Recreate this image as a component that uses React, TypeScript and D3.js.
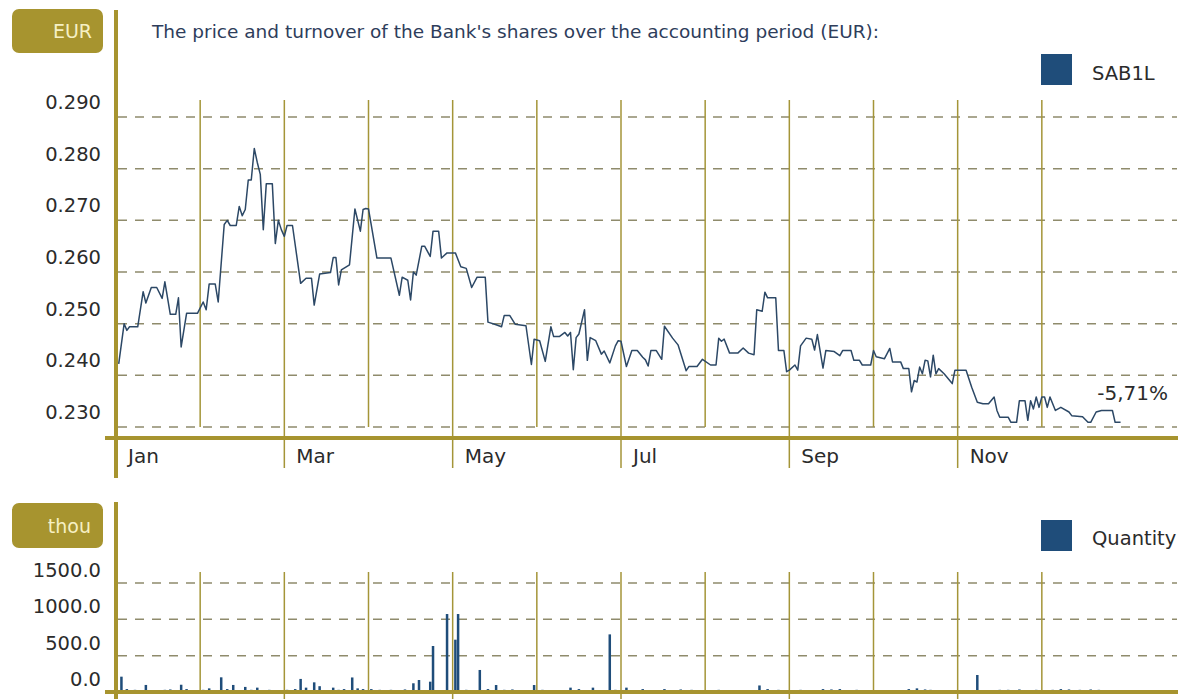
import * as d3 from 'd3'

// price points per month: [day, EUR]
const priceJan: [number, number][] = [[2, 0.2422], [4, 0.25], [5, 0.2487], [6, 0.2494], [9, 0.2494], [11, 0.2562], [12, 0.254], [14, 0.257], [16, 0.257], [18, 0.2549], [19, 0.2581], [21, 0.2518], [23, 0.2518], [24, 0.255], [25, 0.2455], [27, 0.252], [31, 0.252]]
const priceFeb: [number, number][] = [[2, 0.2542], [3, 0.2527], [4, 0.2577], [6, 0.2577], [7, 0.2542], [9, 0.2692], [10, 0.27], [11, 0.269], [13, 0.269], [14, 0.2727], [15, 0.2709], [16, 0.2721], [17, 0.2778], [18, 0.2778], [19, 0.2839], [20, 0.2812], [21, 0.2789], [22, 0.2682], [23, 0.2771], [25, 0.2771], [26, 0.2655], [27, 0.27], [28, 0.2682]]
const priceMar: [number, number][] = [[1, 0.2669], [2, 0.269], [4, 0.269], [7, 0.2578], [9, 0.2588], [11, 0.2588], [12, 0.2536], [14, 0.2596], [18, 0.2599], [19, 0.2628], [20, 0.2628], [21, 0.2575], [22, 0.2604], [25, 0.2614], [27, 0.2722], [29, 0.2679], [30, 0.2721], [31, 0.2723]]
const priceApr: [number, number][] = [[1, 0.2722], [4, 0.2627], [9, 0.2627], [12, 0.2555], [13, 0.259], [15, 0.2584], [16, 0.2546], [17, 0.26], [18, 0.2594], [20, 0.265], [21, 0.265], [23, 0.263], [24, 0.2679], [26, 0.2679], [27, 0.2627], [29, 0.2637], [30, 0.2637]]
const priceMay: [number, number][] = [[2, 0.2637], [4, 0.261], [6, 0.2607], [8, 0.257], [10, 0.259], [13, 0.259], [14, 0.2503], [17, 0.2498], [19, 0.2494], [20, 0.2516], [22, 0.2516], [24, 0.2499], [28, 0.2496], [30, 0.2421], [31, 0.247]]
const priceJun: [number, number][] = [[2, 0.2467], [4, 0.2427], [6, 0.2494], [7, 0.2475], [9, 0.2475], [11, 0.2483], [12, 0.2476], [13, 0.2483], [14, 0.2411], [15, 0.2473], [16, 0.248], [18, 0.2527], [19, 0.2429], [20, 0.2473], [22, 0.2467], [24, 0.2441], [25, 0.2447], [27, 0.2424], [29, 0.2457], [30, 0.2467]]
const priceJul: [number, number][] = [[1, 0.2466], [3, 0.2417], [5, 0.2448], [7, 0.2448], [9, 0.2435], [10, 0.243], [11, 0.2418], [12, 0.2448], [14, 0.2448], [16, 0.2431], [17, 0.2495], [20, 0.2472], [22, 0.2459], [25, 0.2409], [26, 0.2417], [29, 0.2417], [31, 0.2431]]
const priceAug: [number, number][] = [[3, 0.242], [5, 0.242], [6, 0.2472], [7, 0.2466], [8, 0.247], [10, 0.2443], [13, 0.2443], [15, 0.2453], [17, 0.2443], [19, 0.244], [20, 0.2527], [22, 0.2524], [23, 0.2561], [24, 0.255], [27, 0.255], [28, 0.2448], [30, 0.2448], [31, 0.2407]]
const priceSep: [number, number][] = [[1, 0.241], [3, 0.242], [4, 0.241], [5, 0.2457], [7, 0.2472], [9, 0.247], [10, 0.2449], [11, 0.2479], [13, 0.2414], [14, 0.2448], [17, 0.2446], [19, 0.2438], [20, 0.2448], [23, 0.2448], [24, 0.2429], [26, 0.2429], [27, 0.242], [30, 0.242]]
const priceOct: [number, number][] = [[1, 0.2448], [2, 0.2436], [5, 0.2432], [6, 0.2442], [7, 0.2452], [8, 0.2426], [11, 0.2426], [12, 0.2413], [14, 0.2413], [15, 0.2368], [16, 0.239], [17, 0.2387], [18, 0.2416], [19, 0.2403], [20, 0.2429], [21, 0.2428], [22, 0.2397], [23, 0.2439], [24, 0.2403], [25, 0.2413], [27, 0.2403], [30, 0.2384], [31, 0.241]]
const priceNov: [number, number][] = [[2, 0.241], [4, 0.241], [6, 0.2377], [8, 0.2348], [10, 0.2345], [12, 0.2345], [14, 0.2358], [15, 0.2332], [16, 0.2319], [19, 0.2319], [20, 0.2309], [22, 0.2309], [23, 0.2351], [25, 0.2351], [26, 0.2313], [27, 0.2351], [28, 0.2335], [29, 0.2358], [30, 0.2338]]
const priceDec: [number, number][] = [[1, 0.2358], [2, 0.2358], [3, 0.2338], [4, 0.2358], [6, 0.2332], [8, 0.2338], [11, 0.2329], [12, 0.2322], [16, 0.232], [18, 0.2309], [19, 0.2309], [21, 0.2329], [23, 0.2332], [27, 0.2332], [28, 0.2309], [30, 0.2309]]

// turnover per month: [day, thousand shares]
const volJan: [number, number][] = [[3, 211], [5, 40], [8, 30], [12, 97], [15, 25], [19, 30], [21, 35], [25, 100], [27, 40], [29, 20]]
const volFeb: [number, number][] = [[2, 30], [4, 50], [8, 202], [10, 40], [12, 97], [16, 70], [18, 30], [20, 60], [24, 30], [26, 25]]
const volMar: [number, number][] = [[2, 30], [5, 40], [7, 180], [9, 60], [12, 133], [14, 80], [19, 60], [21, 30], [23, 40], [26, 200], [28, 50], [30, 40]]
const volApr: [number, number][] = [[2, 40], [5, 30], [9, 30], [12, 25], [14, 35], [17, 120], [19, 165], [23, 142], [24, 633], [29, 1073]]
const volMay: [number, number][] = [[2, 720], [3, 1073], [6, 30], [8, 25], [11, 303], [14, 40], [17, 96], [20, 30], [23, 35], [27, 20], [31, 96]]
const volJun: [number, number][] = [[3, 30], [6, 20], [9, 25], [13, 60], [16, 40], [21, 60], [24, 20], [27, 793], [29, 30]]
const volJul: [number, number][] = [[3, 60], [9, 40], [12, 25], [17, 40], [19, 20], [23, 35], [27, 30], [30, 20]]
const volAug: [number, number][] = [[6, 30], [12, 15], [17, 20], [21, 90], [24, 40], [28, 30], [31, 25]]
const volSep: [number, number][] = [[5, 30], [9, 15], [13, 40], [16, 35], [19, 40], [25, 30], [28, 25]]
const volOct: [number, number][] = [[5, 20], [9, 20], [14, 40], [17, 50], [20, 35], [22, 30], [27, 15]]
const volNov: [number, number][] = [[8, 234], [12, 25], [16, 30], [19, 30], [23, 35], [27, 25], [29, 30]]
const volDec: [number, number][] = [[5, 30], [8, 40], [11, 35], [15, 30], [19, 35], [22, 30], [26, 25]]

const months = ['Jan', 'Feb', 'Mar', 'Apr', 'May', 'Jun', 'Jul', 'Aug', 'Sep', 'Oct', 'Nov', 'Dec']
const daysInMonth = [31, 28, 31, 30, 31, 30, 31, 31, 30, 31, 30, 31]
const priceTicks = [0.23, 0.24, 0.25, 0.26, 0.27, 0.28, 0.29]
const volTicks = [0, 500, 1000, 1500]
const title = "The price and turnover of the Bank's shares over the accounting period (EUR):"
const changeLabel = '-5,71%'

const priceByMonth = [priceJan, priceFeb, priceMar, priceApr, priceMay, priceJun, priceJul, priceAug, priceSep, priceOct, priceNov, priceDec]
const volByMonth = [volJan, volFeb, volMar, volApr, volMay, volJun, volJul, volAug, volSep, volOct, volNov, volDec]

const OLIVE = '#a7942f'
const GRIDLINE = '#8f8b6c'
const MONTHLINE = '#a49538'
const NAVY = '#2c4866'
const BLUE = '#1f4d7a'
const FONT = '"DejaVu Sans", Verdana, sans-serif'

// month index + fraction of month
const monthPos = (m: number, d: number) => m + (d - 1) / daysInMonth[m]

const prices = priceByMonth.flatMap((arr, m) => arr.map(([d, v]) => ({ t: monthPos(m, d), v })))
const volumes = volByMonth.flatMap((arr, m) => arr.map(([d, v]) => ({ t: monthPos(m, d), v })))

export default function App() {
  const W = 1188
  const H = 699
  const x = d3.scaleLinear().domain([0, 12]).range([116, 1126])
  const yP = d3.scaleLinear().domain([0.23, 0.29]).range([427, 117])
  const yV = d3.scaleLinear().domain([0, 1500]).range([692, 583])

  const line = d3.line<{ t: number; v: number }>()
    .x(p => x(p.t))
    .y(p => yP(p.v))

  const monthIdx = d3.range(1, 12)
  const labelIdx = d3.range(0, 12, 2)
  const xMin = 118
  const xMax = 1177

  return (
    <svg width={W} height={H} style={{ position: 'absolute', left: 0, top: 0, background: '#fff' }} fontFamily={FONT}>
      {/* ---------- price panel ---------- */}
      <rect x={12} y={9} width={91} height={44} rx={7} fill={OLIVE} />
      <text x={92} y={38} textAnchor="end" fontSize={19} fill="#f6f0c4">EUR</text>
      <text x={152} y={38} fontSize={18.5} fill="#2e3d5b">{title}</text>

      <rect x={1041} y={54} width={31} height={31} fill={BLUE} />
      <text x={1092} y={80} fontSize={19.5} fill="#2b2b2b">SAB1L</text>

      {priceTicks.map(t => (
        <g key={t}>
          <line x1={xMin} x2={xMax} y1={yP(t)} y2={yP(t)} stroke={GRIDLINE} strokeWidth={1.5} strokeDasharray="9,8" />
          <text x={101} y={yP(t) - 8} textAnchor="end" fontSize={19.5} fill="#2b2b2b">{t.toFixed(3)}</text>
        </g>
      ))}

      {monthIdx.map(m => (
        <line key={m} x1={x(m)} x2={x(m)} y1={100} y2={m % 2 === 0 ? 468 : yP(0.23)} stroke={MONTHLINE} strokeWidth={1.5} />
      ))}

      <path d={line(prices) ?? ''} fill="none" stroke={NAVY} strokeWidth={1.5} strokeLinejoin="round" />

      <text x={1168} y={400} textAnchor="end" fontSize={20} fill="#2b2b2b">{changeLabel}</text>

      {labelIdx.map(m => (
        <text key={m} x={x(m) + 12} y={463} fontSize={20} fill="#2b2b2b">{months[m]}</text>
      ))}

      <line x1={105} x2={1178} y1={438} y2={438} stroke={OLIVE} strokeWidth={4} />
      <line x1={116} x2={116} y1={10} y2={478} stroke={OLIVE} strokeWidth={4} />

      {/* ---------- turnover panel ---------- */}
      <rect x={12} y={503} width={91} height={45} rx={7} fill={OLIVE} />
      <text x={91} y={533} textAnchor="end" fontSize={19} fill="#f6f0c4">thou</text>

      <rect x={1041} y={520} width={31} height={31} fill={BLUE} />
      <text x={1092} y={545} fontSize={19.5} fill="#2b2b2b">Quantity</text>

      {volTicks.map(t => (
        <g key={t}>
          {t > 0 && <line x1={xMin} x2={xMax} y1={yV(t)} y2={yV(t)} stroke={GRIDLINE} strokeWidth={1.5} strokeDasharray="9,8" />}
          <text x={101} y={yV(t) - 6} textAnchor="end" fontSize={19.5} fill="#2b2b2b">{t.toFixed(1)}</text>
        </g>
      ))}

      {monthIdx.map(m => (
        <line key={m} x1={x(m)} x2={x(m)} y1={572} y2={m % 2 === 0 ? 699 : yV(0)} stroke={MONTHLINE} strokeWidth={1.5} />
      ))}

      {volumes.map((p, i) => (
        <rect key={i} x={x(p.t) - 1.25} y={yV(p.v)} width={2.5} height={yV(0) - yV(p.v)} fill={BLUE} />
      ))}

      <line x1={105} x2={1178} y1={692} y2={692} stroke={OLIVE} strokeWidth={4} />
      <line x1={116} x2={116} y1={502} y2={699} stroke={OLIVE} strokeWidth={4} />
    </svg>
  )
}
